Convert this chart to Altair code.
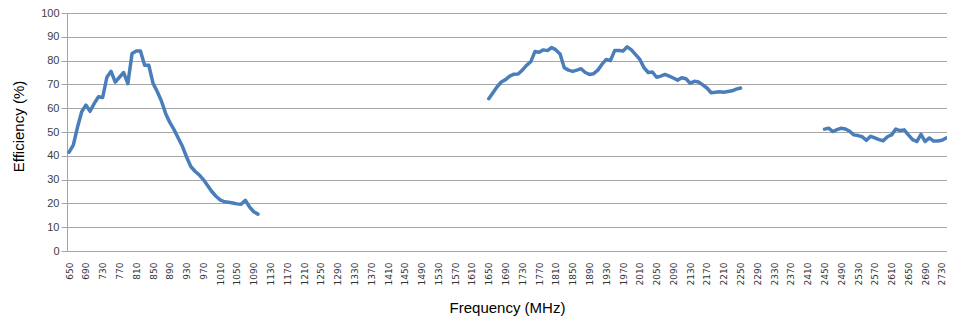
import altair as alt
import pandas as pd

# Band 1: 650-1100 MHz
freq1 = list(range(650, 1101, 10))
eff1 = [41.5, 44.5, 52.0, 58.5, 61.3, 58.7, 62.0, 64.8, 64.5, 73.0,
        75.5, 71.0, 73.0, 75.0, 70.3, 83.0, 84.0, 84.0, 78.0, 78.0,
        70.5, 67.0, 63.0, 57.8, 54.0, 51.0, 47.5, 44.0, 39.5, 35.5,
        33.5, 32.0, 30.0, 27.5, 25.0, 23.0, 21.5, 20.7, 20.5, 20.2,
        19.8, 19.6, 21.3, 18.5, 16.5, 15.5]

# Band 2: 1650-2250 MHz
freq2 = list(range(1650, 2251, 10))
eff2 = [64.0, 66.5, 69.0, 71.0, 72.0, 73.5, 74.3, 74.4, 76.0, 78.0,
        79.5, 83.8, 83.5, 84.5, 84.2, 85.5, 84.5, 82.8, 77.0, 76.0,
        75.5, 76.0, 76.6, 75.0, 74.2, 74.5, 76.0, 78.5, 80.5, 80.0,
        84.2, 84.2, 84.0, 85.8, 84.5, 82.5, 80.5, 77.0, 75.0, 75.2,
        73.0, 73.5, 74.2, 73.5, 72.7, 71.8, 72.8, 72.4, 70.5, 71.3,
        71.0, 69.8, 68.5, 66.5, 66.7, 66.9, 66.7, 67.0, 67.3, 68.0,
        68.5]

# Band 3: 2450-2740 MHz
freq3 = list(range(2450, 2741, 10))
eff3 = [51.2, 51.6, 50.2, 51.0, 51.6, 51.3, 50.3, 48.8, 48.5, 48.0,
        46.5, 48.2, 47.5, 46.8, 46.3, 48.0, 48.8, 51.2, 50.6, 50.9,
        48.8, 46.8, 46.0, 49.0, 46.0, 47.5, 46.2, 46.2, 46.5, 47.5]

x_ticks = list(range(650, 2731, 40))
y_ticks = list(range(0, 101, 10))

rows = []
for seg, (fs, es) in enumerate([(freq1, eff1), (freq2, eff2), (freq3, eff3)]):
    for f, e in zip(fs, es):
        rows.append({"freq": f, "eff": e, "seg": seg})
df = pd.DataFrame(rows)

grid_color = "#A6A6A6"

chart = alt.Chart(df).mark_line(
    color="#4A7EBB", strokeWidth=3.5, strokeJoin="round", strokeCap="round",
    clip=True
).encode(
    x=alt.X("freq:Q",
            scale=alt.Scale(domain=[645, 2742], nice=False, zero=False),
            axis=alt.Axis(values=x_ticks, format="d", title="Frequency (MHz)",
                          labelAngle=270, labelFontSize=9, labelFont="DejaVu Sans",
                          labelColor="#333333", labelOverlap=False, labelBound=False,
                          labelFlush=False,
                          grid=False, ticks=False, labelPadding=11,
                          domainColor=grid_color, domainWidth=1,
                          titleFont="Liberation Sans", titleFontSize=15,
                          titleFontWeight="normal", titleColor="#000000",
                          titleBaseline="middle", titleY=56)),
    y=alt.Y("eff:Q",
            scale=alt.Scale(domain=[0, 100], nice=False),
            axis=alt.Axis(values=y_ticks, format="d", title="Efficiency (%)",
                          labelFont="Liberation Sans", labelFontSize=11,
                          labelColor="#404040", labelPadding=2,
                          tickSize=6, tickColor=grid_color,
                          grid=True, gridColor=grid_color, gridWidth=1,
                          domainColor=grid_color, domainWidth=1,
                          titleFont="Liberation Sans", titleFontSize=15,
                          titleFontWeight="normal", titleColor="#000000",
                          titleX=-48.5, titleY=113, titleBaseline="middle")),
    detail="seg:N"
).properties(
    width=880, height=238,
    padding={"left": 59, "top": 5, "right": 0, "bottom": 66},
    autosize=alt.AutoSizeParams(type="none")
).configure_view(stroke=None).configure(background="white")

chart.save("out.html", embed_options={"renderer": "svg", "actions": False})
